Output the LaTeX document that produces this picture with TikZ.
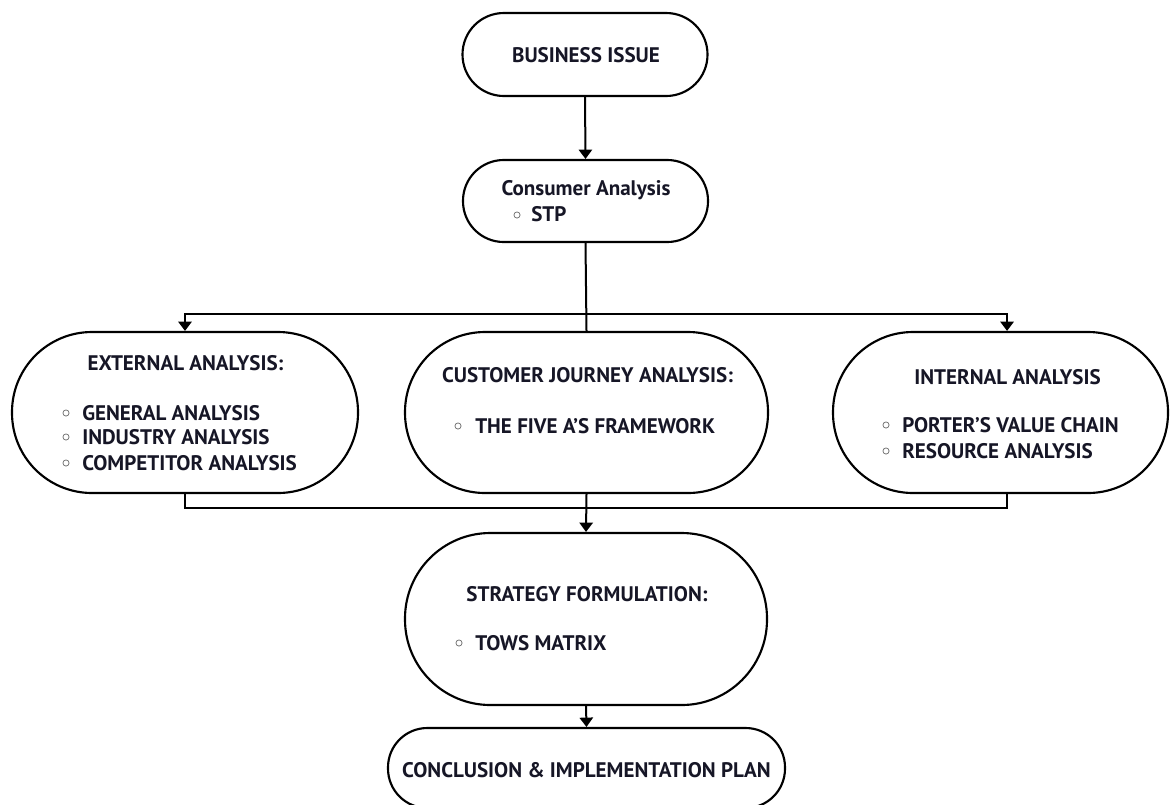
\documentclass[tikz,border=0pt]{standalone}
\usepackage{fontspec}
\setmainfont{PT Sans}
\usetikzlibrary{arrows.meta}

\definecolor{inkdark}{RGB}{22,22,38}
\definecolor{bulletgray}{RGB}{120,120,120}

\tikzset{
  stadium/.style={draw=black, line width=1.6pt, fill=white, inner sep=0pt},
  flowline/.style={draw=black, line width=1.5pt},
  flowarrow/.style={flowline, -{Triangle[width=10pt,length=7pt]}},
  label/.style={inner sep=0pt, text=inkdark, font=\fontsize{15.8}{18}\selectfont\bfseries},
  bulletring/.style={draw=bulletgray, line width=0.6pt}
}

\begin{document}
\begin{tikzpicture}[x=0.75pt,y=0.75pt,yscale=-1,xscale=1]
            \useasboundingbox (0,0) rectangle (1170,804);
            %Shape: Rounded Rect (boxes)
            \node (issue) [stadium, minimum width=183.75pt, minimum height=62.25pt, rounded corners=31pt] at (585,54.5) {};
            \node (consumer) [stadium, minimum width=183.75pt, minimum height=61.5pt, rounded corners=30.5pt] at (585.5,201) {};
            \node (external) [stadium, minimum width=259.5pt, minimum height=120.75pt, rounded corners=60pt] at (185,412.5) {};
            \node (journey) [stadium, minimum width=272.25pt, minimum height=120.75pt, rounded corners=60pt] at (586.5,412.5) {};
            \node (internal) [stadium, minimum width=251.25pt, minimum height=120.75pt, rounded corners=60pt] at (1000.5,412.5) {};
            \node (strategy) [stadium, minimum width=271.5pt, minimum height=129pt, rounded corners=64pt] at (586,619) {};
            \node (conclusion) [stadium, minimum width=297.75pt, minimum height=60pt, rounded corners=29.5pt] at (586.5,768) {};

            %Straight Lines (connectors)
            \coordinate (topbar) at (586,314);
            \coordinate (botbar) at (587,508);
            \draw [flowarrow] (issue.south) -- (consumer.north);
            \draw [flowline] (consumer.south) -- (journey.north);
            \draw [flowarrow] (topbar) -| (external.north);
            \draw [flowarrow] (topbar) -| ([xshift=4.9pt]internal.north);
            \draw [flowline] (external.south) |- (botbar) -| ([xshift=4.9pt]internal.south);
            \draw [flowarrow] (journey.south) -- (strategy.north);
            \draw [flowarrow] (strategy.south) -- (conclusion.north);

            % Bullet rings
            \foreach \bx/\by in {517/215, 66/413, 66/437, 66/463, 458/426, 886/425, 886/451, 459/643}
              \draw [bulletring] (\bx,\by) circle (2.3pt);

            % Text Node
            \draw (586,62) node (issuetxt) [anchor=base, label] {BUSINESS ISSUE};
            % Text Node
            \draw (586,195) node (consumertxt) [anchor=base, label] {Consumer Analysis};
            % Text Node
            \draw (531,221) node (stptxt) [anchor=base west, label] {STP};
            % Text Node
            \draw (185.5,370) node (exttitle) [anchor=base, label] {EXTERNAL ANALYSIS:};
            % Text Node
            \draw (82,420) node (extone) [anchor=base west, label] {GENERAL ANALYSIS};
            \draw (82,444) node (exttwo) [anchor=base west, label] {INDUSTRY ANALYSIS};
            \draw (82,470) node (extthree) [anchor=base west, label] {COMPETITOR ANALYSIS};
            % Text Node
            \draw (587.5,382) node (journeytitle) [anchor=base, label] {CUSTOMER JOURNEY ANALYSIS:};
            \draw (475,433) node (journeyone) [anchor=base west, label] {THE FIVE A’S FRAMEWORK};
            % Text Node
            \draw (1007.5,384) node (inttitle) [anchor=base, label] {INTERNAL ANALYSIS};
            \draw (902,432) node (intone) [anchor=base west, label] {PORTER’S VALUE CHAIN};
            \draw (902,458) node (inttwo) [anchor=base west, label] {RESOURCE ANALYSIS};
            % Text Node
            \draw (587,601) node (strattitle) [anchor=base, label] {STRATEGY FORMULATION:};
            \draw (475,650) node (stratone) [anchor=base west, label] {TOWS MATRIX};
            % Text Node
            \draw (586.5,777) node (conctxt) [anchor=base, label] {CONCLUSION \& IMPLEMENTATION PLAN};
\end{tikzpicture}
\end{document}
